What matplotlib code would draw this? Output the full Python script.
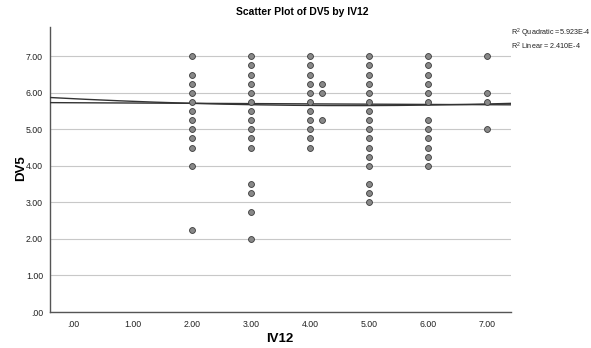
import matplotlib.pyplot as plt
import numpy as np

plt.rcParams['font.family'] = ['Liberation Sans', 'DejaVu Sans']
plt.rcParams['mathtext.fontset'] = 'custom'
plt.rcParams['mathtext.rm'] = 'Liberation Sans'

# puntos por columna de IV12
x_2 = [7, 6.5, 6.25, 6, 5.75, 5.5, 5.25, 5, 4.75, 4.5, 4, 2.25]
x_3 = [7, 6.75, 6.5, 6.25, 6, 5.75, 5.5, 5.25, 5, 4.75, 4.5, 3.5, 3.25, 2.75, 2]
x_4 = [7, 6.75, 6.5, 6.25, 6, 5.75, 5.5, 5.25, 5, 4.75, 4.5]
x_42 = [6.25, 6, 5.25]
x_5 = [7, 6.75, 6.5, 6.25, 6, 5.75, 5.5, 5.25, 5, 4.75, 4.5, 4.25, 4, 3.5, 3.25, 3]
x_6 = [7, 6.75, 6.5, 6.25, 6, 5.75, 5.25, 5, 4.75, 4.5, 4.25, 4]
x_7 = [7, 6, 5.75, 5]
columnas = [(2, x_2), (3, x_3), (4, x_4), (4.2, x_42), (5, x_5), (6, x_6), (7, x_7)]

# coeficientes de los ajustes
coefLineal = [-0.0077, 5.727]
coefCuadratico = [0.0085, -0.080, 5.837]

ticksX = [0, 1, 2, 3, 4, 5, 6, 7]
ticksY = [0, 1, 2, 3, 4, 5, 6, 7]

def etiqueta(v):
    s = "%.2f" % v
    return s[1:] if s.startswith("0") else s

IV12 = []
DV5 = []
for xv, ys in columnas:
    IV12 += [xv] * len(ys)
    DV5 += ys

fig = plt.figure(figsize=(5.91, 3.48), dpi=100)
ax = fig.add_axes([50/591, 36/348, 461/591, 285/348])

ax.set_xlim(-0.4, 7.4)
ax.set_ylim(0, 7.8)

ax.yaxis.grid(True, color='#c8c8c8', linewidth=0.8)
ax.set_axisbelow(True)

X = np.linspace(-0.4, 7.4, 200)
ax.plot(X, np.polyval(coefLineal, X), color='#333333', linewidth=1, zorder=3)
ax.plot(X, np.polyval(coefCuadratico, X), color='#333333', linewidth=1, zorder=3)

ax.scatter(IV12, DV5, s=18, facecolor='#888888', edgecolor='#3a3a3a', linewidth=0.6, zorder=4)

ax.set_xticks(ticksX)
ax.set_xticklabels([etiqueta(t) for t in ticksX])
ax.set_yticks(ticksY)
ax.set_yticklabels([etiqueta(t) for t in ticksY])
ax.tick_params(length=0, labelsize=6.3, colors='#222222')
ax.tick_params(axis='x', pad=6)
ax.tick_params(axis='y', pad=5)

for lado in ['top', 'right']:
    ax.spines[lado].set_visible(False)
for lado in ['left', 'bottom']:
    ax.spines[lado].set_color('#555555')
    ax.spines[lado].set_linewidth(1)

fig.text(302/591, 1 - 12/348, "Scatter Plot of DV5 by IV12", fontsize=7.5, fontweight='bold',
         ha='center', va='center')
fig.text(280/591, 1 - 339/348, "IV12", fontsize=9.5, fontweight='bold', ha='center', va='center')
fig.text(21/591, 1 - 168/348, "DV5", fontsize=9.5, fontweight='bold', ha='center', va='center',
         rotation=90)

fig.text(511/591, 1 - 33/348, "R$^2$ Quadratic =5.923E-4", fontsize=5.2, va='center', color='#222222')
fig.text(511/591, 1 - 46/348, "R$^2$ Linear = 2.410E-4", fontsize=5.2, va='center', color='#222222')

plt.savefig("out.png", dpi=100)
